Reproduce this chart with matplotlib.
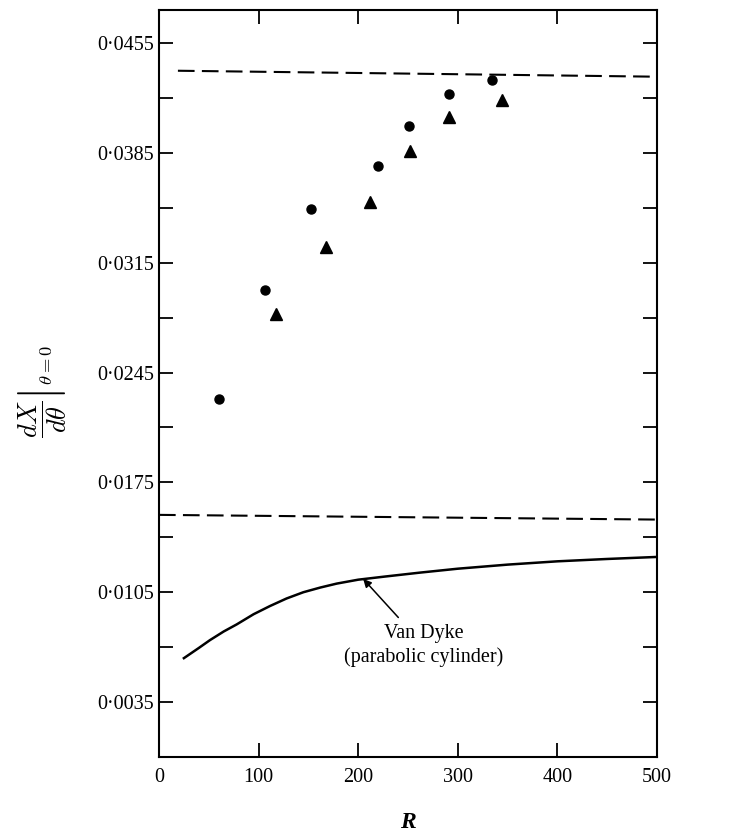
import matplotlib
matplotlib.use("Agg")
import matplotlib.pyplot as plt
from matplotlib.ticker import FixedLocator, FuncFormatter

plt.rcParams['font.family'] = ['Liberation Serif', 'DejaVu Serif']
plt.rcParams['mathtext.fontset'] = 'stix'

# measured points
circle_R = [60.5, 106.7, 152.9, 220.2, 250.7, 290.8, 334.6]
circle_v = [0.02283, 0.02974, 0.03491, 0.03765, 0.04023, 0.04227, 0.04314]

tri_R = [117.2, 167.7, 211.8, 252.0, 291.5, 344.4]
tri_v = [0.02825, 0.0325, 0.03538, 0.03863, 0.04076, 0.04186]

# Van Dyke (parabolic cylinder) curve
vd_R = [25.0, 40.0, 51.2, 65.0, 78.0, 95.0, 111.4, 128.0, 144.9, 162.0, 178.4,
        200.0, 226.9, 262.0, 300.0, 350.0, 400.0, 450.0, 500.0]
vd_v = [0.00630, 0.00695, 0.00745, 0.00800, 0.00845, 0.00910, 0.00962, 0.01010,
        0.01050, 0.01080, 0.01105, 0.01130, 0.01150, 0.01175, 0.01200, 0.01226,
        0.01247, 0.01262, 0.01275]

# dashed limits
upper_R = [19, 500]
upper_v = [0.04373, 0.04335]
lower_R = [0, 500]
lower_v = [0.01543, 0.01513]

y_labels = [0.0035, 0.0105, 0.0175, 0.0245, 0.0315, 0.0385, 0.0455]
y_minor = [0.007, 0.014, 0.021, 0.028, 0.035, 0.042]
x_ticks = [0, 100, 200, 300, 400, 500]

fig = plt.figure(figsize=(7.3, 8.34), dpi=100)
ax = fig.add_axes([0.2178, 0.0923, 0.6822, 0.8957])

ax.plot(upper_R, upper_v, color='black', lw=1.5, dashes=(8, 3.5))
ax.plot(lower_R, lower_v, color='black', lw=1.5, dashes=(8, 3.5))
ax.plot(vd_R, vd_v, color='black', lw=1.8)
ax.plot(circle_R, circle_v, 'o', color='black', ms=6.5, ls='none')
ax.plot(tri_R, tri_v, '^', color='black', ms=9, ls='none')

ax.annotate('Van Dyke\n(parabolic cylinder)', xy=(205, 0.01135), xytext=(266, 0.0071),
            ha='center', va='center', fontsize=14.5, linespacing=1.25,
            arrowprops=dict(arrowstyle='-|>', color='black', lw=1.1,
                            mutation_scale=12, shrinkA=4, shrinkB=0))

ax.set_xlim(0, 500)
ax.set_ylim(0, 0.0476)

ax.xaxis.set_major_locator(FixedLocator(x_ticks))
ax.yaxis.set_major_locator(FixedLocator(y_labels))
ax.yaxis.set_minor_locator(FixedLocator(y_minor))
ax.yaxis.set_major_formatter(FuncFormatter(lambda v, p: ('%.4f' % v).replace('.', '\u00b7')))

ax.tick_params(which='both', direction='in', length=10, width=1.3,
               top=True, right=True, labelsize=14.5)
ax.tick_params(axis='x', pad=8)
for s in ax.spines.values():
    s.set_linewidth(1.5)

ax.set_xlabel('R', fontsize=17, style='italic', weight='bold', labelpad=18)
ax.set_ylabel(r'$\left.\dfrac{dX}{d\theta}\right|_{\theta=0}$', fontsize=19,
              math_fontfamily='cm')
ax.yaxis.set_label_coords(-0.183, 0.49)

fig.savefig('out.png', dpi=100)
